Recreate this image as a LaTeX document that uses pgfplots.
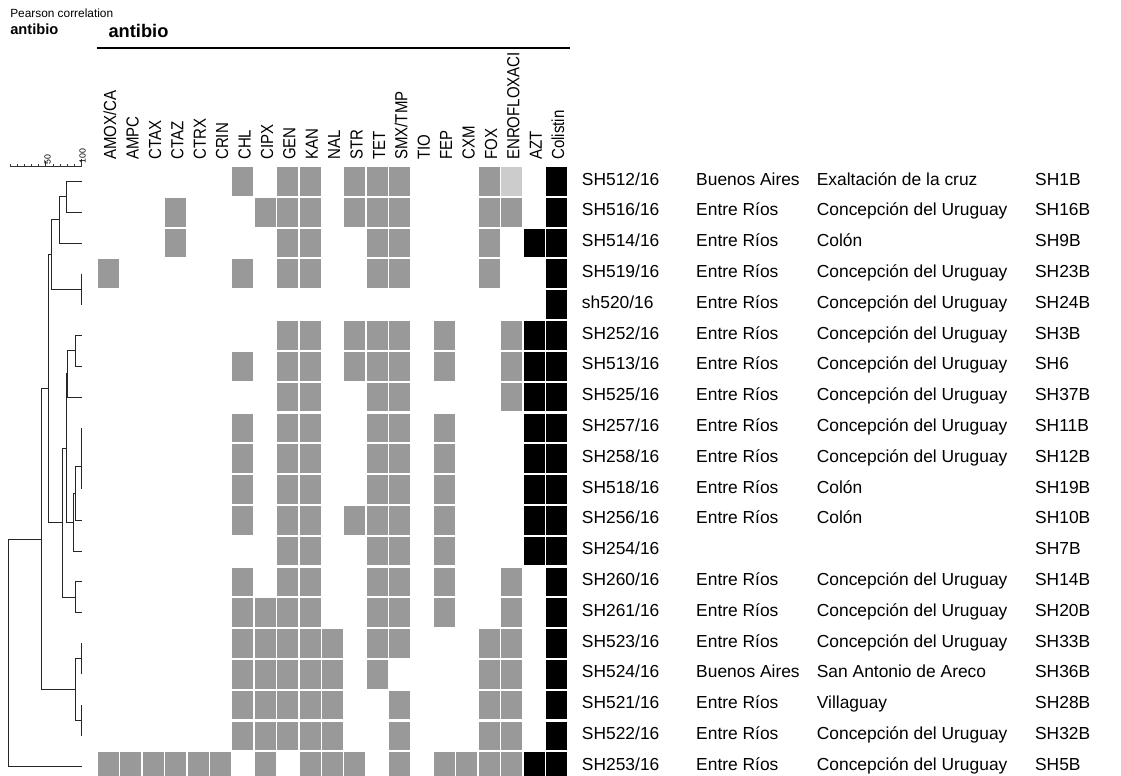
\documentclass[border=0pt]{standalone}
\usepackage{fontspec}
\setmainfont{Liberation Sans}
\usepackage{pgfplots}
\pgfplotsset{compat=1.18}
\definecolor{cgray}{HTML}{999999}
\definecolor{clight}{HTML}{CCCCCC}
\pgfdeclareplotmark{cell}{\pgfpathrectangle{\pgfpoint{-7.875pt}{-10.75pt}}{\pgfpoint{15.75pt}{21.5pt}}\pgfusepathqfill}
\newcommand\rowlab[4]{\makebox[85.7pt][l]{#1}\makebox[90.5pt][l]{#2}\makebox[163.7pt][l]{#3}#4}
\pgfplotsset{dend/.style={black!85, line width=0.75pt}}
\begin{document}
\begin{tikzpicture}
% ---------- canvas in pixel units (titles, scale bar) ----------
\begin{axis}[at={(0pt,0pt)}, anchor=south west, scale only axis,
  width=840.75pt, height=581.25pt, xmin=0, xmax=1121, ymin=0, ymax=775,
  y dir=reverse, axis line style={draw=none}, ticks=none, clip=false]
\node[anchor=base west, inner sep=0pt, font=\fontsize{8.9pt}{10pt}\selectfont] at (axis cs:10,17.3) {Pearson correlation};
\node[anchor=base west, inner sep=0pt, font=\fontsize{11pt}{12pt}\selectfont\bfseries] at (axis cs:10,34) {antibio};
\node[anchor=base west, inner sep=0pt, font=\fontsize{13.7pt}{15pt}\selectfont\bfseries] at (axis cs:108.3,37.7) {antibio};
\draw[line width=1.5pt] (axis cs:97,48.3) -- (axis cs:570,48.3);
% scale bar
\draw[line width=0.6pt, black!80] (axis cs:10,166) -- (axis cs:81.7,166)
  (axis cs:10,166) -- (axis cs:10,163.5)
  (axis cs:17.17,166) -- (axis cs:17.17,163.5)
  (axis cs:24.34,166) -- (axis cs:24.34,163.5)
  (axis cs:31.51,166) -- (axis cs:31.51,163.5)
  (axis cs:38.68,166) -- (axis cs:38.68,163.5)
  (axis cs:45.85,166) -- (axis cs:45.85,161)
  (axis cs:53.02,166) -- (axis cs:53.02,163.5)
  (axis cs:60.19,166) -- (axis cs:60.19,163.5)
  (axis cs:67.36,166) -- (axis cs:67.36,163.5)
  (axis cs:74.53,166) -- (axis cs:74.53,163.5)
  (axis cs:81.7,166) -- (axis cs:81.7,159);
\node[rotate=90, anchor=base west, inner sep=0pt, font=\fontsize{6.6pt}{7pt}\selectfont] at (axis cs:50.7,164.5) {50};
\node[rotate=90, anchor=base west, inner sep=0pt, font=\fontsize{6.6pt}{7pt}\selectfont] at (axis cs:85.6,164) {100};
\end{axis}

% ---------- dendrogram (x = correlation, y = row) ----------
\begin{axis}[at={(0pt,0pt)}, anchor=south west, scale only axis,
  width=67.5pt, height=456.75pt, xmin=-13.947, xmax=111.576,
  ymin=-0.5, ymax=19.27, y dir=reverse,
  axis line style={draw=none}, ticks=none, clip=false]
\addplot[dend] coordinates {(100.4,0) (79.1,0) (79.1,1) (100.4,1)};
\addplot[dend] coordinates {(79.1,0.5) (68.8,0.5) (68.8,2) (100.4,2)};
\addplot[dend] coordinates {(100.4,3) (100.4,4)};
\addplot[dend] coordinates {(68.8,1.25) (57.2,1.25) (57.2,3.5) (100.4,3.5)};
\addplot[dend] coordinates {(100.4,5) (90.9,5) (90.9,6) (100.4,6)};
\addplot[dend] coordinates {(90.9,5.5) (80.5,5.5) (80.5,7) (100.4,7)};
\addplot[dend] coordinates {(100.4,8) (100.4,10)};
\addplot[dend] coordinates {(100.4,9.25) (90.7,9.25) (90.7,11) (100.4,11)};
\addplot[dend] coordinates {(90.7,10.125) (88.3,10.125) (88.3,12) (100.4,12)};
\addplot[dend] coordinates {(80.5,6.25) (79.1,6.25) (79.1,11.0625) (88.3,11.0625)};
\addplot[dend] coordinates {(100.4,13) (91.1,13) (91.1,14) (100.4,14)};
\addplot[dend] coordinates {(79.1,8.656) (72.8,8.656) (72.8,13.5) (91.1,13.5)};
\addplot[dend] coordinates {(57.2,2.375) (54.0,2.375) (54.0,11.078) (72.8,11.078)};
\addplot[dend] coordinates {(100.4,15) (100.4,16)};
\addplot[dend] coordinates {(100.4,17) (100.4,18)};
\addplot[dend] coordinates {(100.4,15.5) (91.1,15.5) (91.1,17.5) (100.4,17.5)};
\addplot[dend] coordinates {(54.0,6.727) (43.7,6.727) (43.7,16.5) (91.1,16.5)};
\addplot[dend] coordinates {(43.7,11.613) (-2.4,11.613) (-2.4,19) (100.4,19)};
\end{axis}

% ---------- heat map (x = antibiotic, y = isolate) ----------
\begin{axis}[at={(72.975pt,0pt)}, anchor=south west, scale only axis,
  width=352.8pt, height=456.75pt,
  xmin=-0.5, xmax=20.5, ymin=-0.5, ymax=19.27, y dir=reverse,
  axis line style={draw=none}, major tick length=0pt,
  xtick={0,...,20}, ytick={0,...,19},
  xticklabels={AMOX/CA,AMPC,CTAX,CTAZ,CTRX,CRIN,CHL,CIPX,GEN,KAN,NAL,STR,TET,SMX/TMP,TIO,FEP,CXM,FOX,ENROFLOXACI,AZT,Colistin},
  yticklabels={
    {\rowlab{SH512/16}{Buenos Aires}{Exaltación de la cruz}{SH1B}},
    {\rowlab{SH516/16}{Entre Ríos}{Concepción del Uruguay}{SH16B}},
    {\rowlab{SH514/16}{Entre Ríos}{Colón}{SH9B}},
    {\rowlab{SH519/16}{Entre Ríos}{Concepción del Uruguay}{SH23B}},
    {\rowlab{sh520/16}{Entre Ríos}{Concepción del Uruguay}{SH24B}},
    {\rowlab{SH252/16}{Entre Ríos}{Concepción del Uruguay}{SH3B}},
    {\rowlab{SH513/16}{Entre Ríos}{Concepción del Uruguay}{SH6}},
    {\rowlab{SH525/16}{Entre Ríos}{Concepción del Uruguay}{SH37B}},
    {\rowlab{SH257/16}{Entre Ríos}{Concepción del Uruguay}{SH11B}},
    {\rowlab{SH258/16}{Entre Ríos}{Concepción del Uruguay}{SH12B}},
    {\rowlab{SH518/16}{Entre Ríos}{Colón}{SH19B}},
    {\rowlab{SH256/16}{Entre Ríos}{Colón}{SH10B}},
    {\rowlab{SH254/16}{}{}{SH7B}},
    {\rowlab{SH260/16}{Entre Ríos}{Concepción del Uruguay}{SH14B}},
    {\rowlab{SH261/16}{Entre Ríos}{Concepción del Uruguay}{SH20B}},
    {\rowlab{SH523/16}{Entre Ríos}{Concepción del Uruguay}{SH33B}},
    {\rowlab{SH524/16}{Buenos Aires}{San Antonio de Areco}{SH36B}},
    {\rowlab{SH521/16}{Entre Ríos}{Villaguay}{SH28B}},
    {\rowlab{SH522/16}{Entre Ríos}{Concepción del Uruguay}{SH32B}},
    {\rowlab{SH253/16}{Entre Ríos}{Concepción del Uruguay}{SH5B}}},
  xticklabel pos=upper, yticklabel pos=right,
  xticklabel style={font=\fontsize{13.1pt}{15pt}\selectfont, inner sep=0pt,
    anchor=base west, xshift=5.8pt, yshift=4.5pt, rotate=90, xscale=0.86},
  yticklabel style={font=\fontsize{13.05pt}{15pt}\selectfont, inner sep=0pt,
    anchor=base west, xshift=10.5pt, yshift=-2.7pt},
  clip marker paths=true]
\addplot[scatter, only marks, mark=cell,
  scatter/classes={g={fill=cgray,draw=cgray}, l={fill=clight,draw=clight}, k={fill=black,draw=black}},
  point meta=explicit symbolic] table[meta=c] {
x y c
6 0 g
8 0 g
9 0 g
11 0 g
12 0 g
13 0 g
17 0 g
18 0 l
20 0 k
3 1 g
7 1 g
8 1 g
9 1 g
11 1 g
12 1 g
13 1 g
17 1 g
18 1 g
20 1 k
3 2 g
8 2 g
9 2 g
12 2 g
13 2 g
17 2 g
19 2 k
20 2 k
0 3 g
6 3 g
8 3 g
9 3 g
12 3 g
13 3 g
17 3 g
20 3 k
20 4 k
8 5 g
9 5 g
11 5 g
12 5 g
13 5 g
15 5 g
18 5 g
19 5 k
20 5 k
6 6 g
8 6 g
9 6 g
11 6 g
12 6 g
13 6 g
15 6 g
18 6 g
19 6 k
20 6 k
8 7 g
9 7 g
12 7 g
13 7 g
18 7 g
19 7 k
20 7 k
6 8 g
8 8 g
9 8 g
12 8 g
13 8 g
15 8 g
19 8 k
20 8 k
6 9 g
8 9 g
9 9 g
12 9 g
13 9 g
15 9 g
19 9 k
20 9 k
6 10 g
8 10 g
9 10 g
12 10 g
13 10 g
15 10 g
19 10 k
20 10 k
6 11 g
8 11 g
9 11 g
11 11 g
12 11 g
13 11 g
15 11 g
19 11 k
20 11 k
8 12 g
9 12 g
12 12 g
13 12 g
15 12 g
19 12 k
20 12 k
6 13 g
8 13 g
9 13 g
12 13 g
13 13 g
15 13 g
18 13 g
20 13 k
6 14 g
7 14 g
8 14 g
9 14 g
12 14 g
13 14 g
15 14 g
18 14 g
20 14 k
6 15 g
7 15 g
8 15 g
9 15 g
10 15 g
12 15 g
13 15 g
17 15 g
18 15 g
20 15 k
6 16 g
7 16 g
8 16 g
9 16 g
10 16 g
12 16 g
17 16 g
18 16 g
20 16 k
6 17 g
7 17 g
8 17 g
9 17 g
10 17 g
13 17 g
17 17 g
18 17 g
20 17 k
6 18 g
7 18 g
8 18 g
9 18 g
10 18 g
13 18 g
17 18 g
18 18 g
20 18 k
0 19 g
1 19 g
2 19 g
3 19 g
4 19 g
5 19 g
7 19 g
9 19 g
10 19 g
11 19 g
13 19 g
15 19 g
16 19 g
17 19 g
18 19 g
19 19 k
20 19 k
};
\end{axis}
\path[use as bounding box] (0pt,0pt) rectangle (840.75pt,581.25pt);
\end{tikzpicture}
\end{document}
